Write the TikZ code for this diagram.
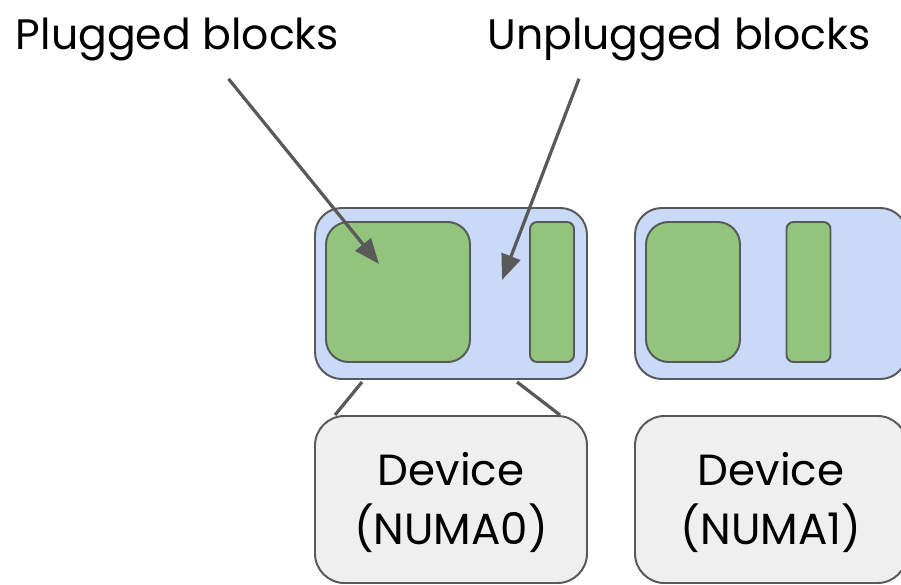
\documentclass[tikz,border=0pt]{standalone}
\usepackage{fontspec}
\setmainfont{Poppins}
\usetikzlibrary{calc,arrows.meta}

\definecolor{memblue}{HTML}{C9DAF8}
\definecolor{blockgreen}{HTML}{93C47D}
\definecolor{devgray}{HTML}{EFEFEF}
\definecolor{edgegray}{HTML}{595959}

\tikzset{
  memory/.style={draw=edgegray, fill=memblue, line width=1.4pt, rounded corners=19pt,
    minimum width=272*0.025cm, minimum height=171*0.025cm, inner sep=0pt},
  bigblock/.style={draw=edgegray, fill=blockgreen, line width=1.4pt, rounded corners=16pt,
    minimum height=140*0.025cm, inner sep=0pt},
  smallblock/.style={draw=edgegray, fill=blockgreen, line width=1.4pt, rounded corners=5pt,
    minimum width=44*0.025cm, minimum height=140*0.025cm, inner sep=0pt},
  device/.style={draw=edgegray, fill=devgray, line width=1.4pt, rounded corners=21pt,
    minimum width=272*0.025cm, minimum height=167*0.025cm, inner sep=0pt,
    align=center, font=\fontsize{31}{42}\selectfont},
  caption/.style={font=\fontsize{30.3}{36}\selectfont, inner sep=0pt},
  pointer/.style={draw=edgegray, line width=2.3pt, -{Triangle[length=18pt,width=14pt]}},
  wire/.style={draw=edgegray, line width=2.3pt}
}

\begin{document}
\begin{tikzpicture}[x=0.025cm,y=-0.025cm]
    \useasboundingbox (0,0) rectangle (901,585);
    % memory ranges
    \node[memory] (mem0) at (451,293.5) {};
    \node[memory] (mem1) at (771,293.5) {};
    \node[bigblock, minimum width=144*0.025cm] (big0) at (398,292) {};
    \node[smallblock] (small0) at (552,292) {};
    \node[bigblock, minimum width=94*0.025cm] (big1) at (693,292) {};
    \node[smallblock] (small1) at (808.5,292) {};
    % devices
    \node[device] (dev0) at (451,499.5) {\rule{0pt}{28pt}Device\\(NUMA0)};
    \node[device] (dev1) at (771,499.5) {\rule{0pt}{28pt}Device\\(NUMA1)};
    \draw[wire] ($(mem0.south west)+(48,2)$) -- ($(dev0.north west)+(21,0)$);
    \draw[wire] ($(mem0.south west)+(203,2)$) -- ($(dev0.north west)+(246,0)$);
    % labels
    \node[caption, anchor=base] (plugged) at (177.5,49) {Plugged blocks};
    \node[caption, anchor=base] (unplugged) at (679,49) {Unplugged blocks};
    \coordinate (pluggedtip) at (379,264);
    \coordinate (unpluggedtip) at (502,280);
    \draw[pointer] ($(plugged.south)+(51,18)$) -- (pluggedtip);
    \draw[pointer] ($(unplugged.south)+(-100,18)$) -- (unpluggedtip);
\end{tikzpicture}
\end{document}
